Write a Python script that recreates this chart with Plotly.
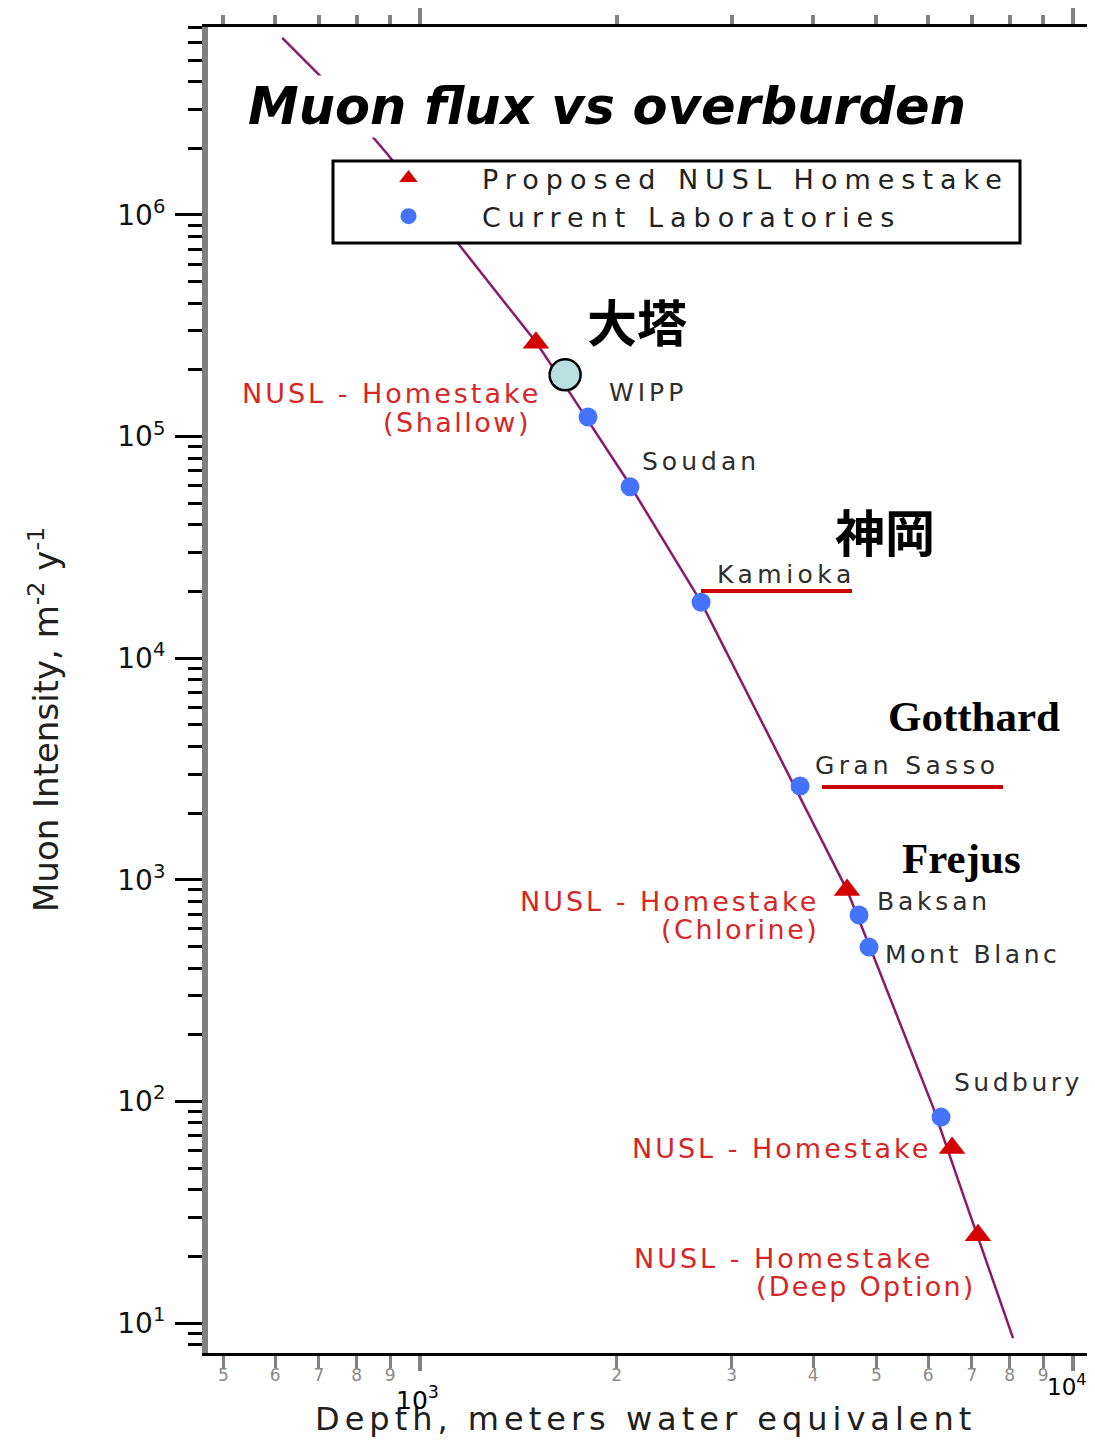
import plotly.graph_objects as go

# ---------------- data ----------------
curve_depth = [615, 713, 893, 1156, 1505, 1697, 2060, 2694, 3661, 4507, 4975, 6104, 6833, 8094]
curve_flux = [6.29e6, 4.07e6, 1.87e6, 7.17e5, 2.67e5, 1.57e5, 6.57e4, 1.79e4, 3030, 899, 435, 94.3, 35.9, 8.56]

nusl_sites = ["Shallow", "Chlorine", "Homestake", "Deep Option"]
nusl_depth = [1505, 4507, 6528, 7153]
nusl_flux = [2.65e5, 899, 61.6, 24.9]

lab_names = ["WIPP", "Soudan", "Kamioka", "Gran Sasso", "Baksan", "Mont Blanc", "Sudbury"]
lab_depth = [1808, 2097, 2694, 3819, 4702, 4871, 6279]
lab_flux = [1.226e5, 5.93e4, 1.79e4, 2650, 694, 497, 85.0]

otoh_depth = [1668]
otoh_flux = [1.90e5]

x_tick_vals = [500, 600, 700, 800, 900, 2000, 3000, 4000, 5000, 6000, 7000, 8000, 9000]
x_tick_text = ["5", "6", "7", "8", "9", "2", "3", "4", "5", "6", "7", "8", "9"]
x_decades = [1000, 10000]
y_tick_vals = [1e1, 1e2, 1e3, 1e4, 1e5, 1e6]
y_tick_text = ["10<sup>1</sup>", "10<sup>2</sup>", "10<sup>3</sup>", "10<sup>4</sup>",
               "10<sup>5</sup>", "10<sup>6</sup>"]
y_minor_vals = [k * 10 ** n for n in range(0, 7) for k in range(2, 10)]

X_RANGE = [2.6753, 4.0214]
Y_RANGE = [0.865, 6.848]

# ---------------- helpers ----------------
# page has an 8px body margin: the figure starts at (8, 8) of the window
OFF = 8
PAGE_W, PAGE_H = 1095, 1443
W, H = PAGE_W - OFF, PAGE_H - OFF
# plot area in window pixels
L, R, T, B = 208, 1087, 27, 1353


def px(x):
    return (x - L) / (R - L)


def py(y):
    return (B - y) / (B - T)


def sp(text, ls):
    return f'<span style="letter-spacing:{ls}px">{text}</span>'


SANS = "DejaVu Sans"
RED = "#d62626"
GRAY = "#2e2e2e"

fig = go.Figure()

fig.add_trace(go.Scatter(x=curve_depth, y=curve_flux, mode="lines",
                         line=dict(color="#8c1a6a", width=2.5),
                         showlegend=False, hoverinfo="skip"))
fig.add_trace(go.Scatter(x=lab_depth, y=lab_flux, mode="markers", text=lab_names,
                         name=sp("Current Laboratories", 7),
                         marker=dict(symbol="circle", size=19, color="#4474ff")))
fig.add_trace(go.Scatter(x=nusl_depth, y=nusl_flux, mode="markers", text=nusl_sites,
                         name=sp("Proposed NUSL Homestake", 7),
                         marker=dict(symbol="triangle-up", size=23, color="#d40000")))
fig.add_trace(go.Scatter(x=otoh_depth, y=otoh_flux, mode="markers", showlegend=False,
                         marker=dict(symbol="circle", size=31, color="#b9e0e0",
                                     line=dict(color="black", width=2.5))))
# dummy trace so the mirror axes are drawn
fig.add_trace(go.Scatter(x=[], y=[], xaxis="x2", yaxis="y2", showlegend=False))

annotations = []


def ann(text, x, y, size, color, xanchor="left", family=SANS, bg=None, **kw):
    d = dict(text=text, x=px(x), y=py(y), xref="paper", yref="paper",
             xanchor=xanchor, yanchor="middle", showarrow=False,
             font=dict(family=family, size=size, color=color))
    if bg:
        d["bgcolor"] = bg
    d.update(kw)
    annotations.append(d)


# title
annotations.append(dict(text="Muon flux vs overburden", x=px(607), y=py(106),
                        xref="paper", yref="paper", xanchor="center", yanchor="middle",
                        showarrow=False, bgcolor="white",
                        font=dict(family=SANS, size=51, color="black",
                                  weight="bold", style="italic")))

# red NUSL labels
ann(sp("NUSL - Homestake", 3), 543, 393, 27, RED, "right")
ann(sp("(Shallow)", 2.5), 533, 422, 27, RED, "right")
ann(sp("NUSL - Homestake", 3), 821, 901, 27, RED, "right")
ann(sp("(Chlorine)", 2.5), 821, 929, 27, RED, "right")
ann(sp("NUSL - Homestake", 3), 933, 1148, 27, RED, "right")
ann(sp("NUSL - Homestake", 3), 935, 1258, 27, RED, "right")
ann(sp("(Deep Option)", 2.2), 978, 1286, 27, RED, "right")

# laboratory labels
ann(sp("WIPP", 4), 607, 392, 25, GRAY)
ann(sp("Soudan", 4), 640, 462, 25, GRAY)
ann(sp("Kamioka", 4.5), 715, 574, 25, GRAY)
ann(sp("Gran Sasso", 4.3), 813, 765, 25, GRAY)
ann(sp("Baksan", 3.8), 875, 901, 25, GRAY)
ann(sp("Mont Blanc", 3.6), 883, 955, 25, GRAY)
ann(sp("Sudbury", 3.5), 950, 1082, 25, GRAY, bg="white", borderpad=3)

# big black labels
ann("<b>大塔</b>", 585, 320, 50, "black", family="Noto Sans CJK JP")
ann("<b>神岡</b>", 833, 530, 50, "black", family="Noto Sans CJK JP")
ann("<b>Gotthard</b>", 886, 717, 43, "black", family="Liberation Serif")
ann("<b>Frejus</b>", 900, 858, 43, "black", family="Liberation Serif")

# axis titles and decade labels
ann(sp("Depth, meters water equivalent", 5), 645, 1419, 32, "#202020", "center")
annotations.append(dict(text="Muon Intensity, m<sup>-2</sup> y<sup>-1</sup>",
                        x=px(44), y=py(720), xref="paper", yref="paper",
                        xanchor="center", yanchor="middle", showarrow=False,
                        textangle=-90, font=dict(family=SANS, size=34, color="#202020")))
ann("10<sup>3</sup>", 417, 1398, 25, "black", "center")
ann("10<sup>4</sup>", 1067, 1385, 23, "black", "center")

shapes = [
    # legend frame
    dict(type="rect", xref="paper", yref="paper", x0=px(333), x1=px(1020), y0=py(243), y1=py(161),
         fillcolor="white", line=dict(color="black", width=3), layer="above"),
    # red underlines
    dict(type="line", xref="paper", yref="paper", x0=px(701), x1=px(852), y0=py(591), y1=py(591),
         line=dict(color="#cc0000", width=4)),
    dict(type="line", xref="paper", yref="paper", x0=px(822), x1=px(1003), y0=py(787), y1=py(787),
         line=dict(color="#cc0000", width=4)),
]

fig.update_layout(
    width=W, height=H,
    margin=dict(l=L - OFF, r=PAGE_W - R, t=T - OFF, b=PAGE_H - B, pad=0, autoexpand=False),
    paper_bgcolor="white", plot_bgcolor="white",
    annotations=annotations, shapes=shapes,
    legend=dict(x=px(335), y=py(154), xanchor="left", yanchor="top",
                bgcolor="rgba(0,0,0,0)", borderwidth=0,
                font=dict(family=SANS, size=27, color="#222222"),
                itemwidth=137, traceorder="reversed", tracegroupgap=0),
    xaxis=dict(type="log", range=X_RANGE, showgrid=False, zeroline=False, automargin=False,
               showline=True, linecolor="black", linewidth=3,
               tickmode="array", tickvals=x_tick_vals, ticktext=x_tick_text,
               ticks="outside", ticklen=12, tickwidth=3, tickcolor="#808080",
               ticklabelstandoff=-7,
               tickfont=dict(family=SANS, size=17, color="#8a8a8a"),
               minor=dict(tickmode="array", tickvals=x_decades, ticks="outside",
                          ticklen=15, tickwidth=4, tickcolor="#808080")),
    yaxis=dict(type="log", range=Y_RANGE, showgrid=False, zeroline=False, automargin=False,
               showline=True, linecolor="#808080", linewidth=6,
               tickmode="array", tickvals=y_tick_vals, ticktext=y_tick_text,
               ticks="outside", ticklen=27, tickwidth=3, tickcolor="black",
               ticklabelstandoff=4,
               tickfont=dict(family=SANS, size=28, color="#111111"),
               minor=dict(tickmode="array", tickvals=y_minor_vals, ticks="outside",
                          ticklen=14, tickwidth=3, tickcolor="black")),
    xaxis2=dict(type="log", range=X_RANGE, overlaying="x", side="top", anchor="y2",
                automargin=False,
                showgrid=False, zeroline=False, showline=True, linecolor="black", linewidth=3,
                tickmode="array", tickvals=x_decades, ticks="outside", ticklen=18,
                tickwidth=4, tickcolor="#808080", showticklabels=False,
                minor=dict(tickmode="array", tickvals=x_tick_vals, ticks="outside",
                           ticklen=9, tickwidth=4, tickcolor="#808080")),
    yaxis2=dict(type="log", range=Y_RANGE, overlaying="y", side="right", anchor="x2",
                automargin=False,
                showgrid=False, zeroline=False, showline=True, linecolor="#808080", linewidth=6,
                tickmode="array", tickvals=y_tick_vals, ticks="outside", ticklen=8,
                tickwidth=3, tickcolor="black", showticklabels=False,
                minor=dict(tickmode="array", tickvals=y_minor_vals, ticks="outside",
                           ticklen=8, tickwidth=3, tickcolor="black")),
)

fig.write_html("out.html")
